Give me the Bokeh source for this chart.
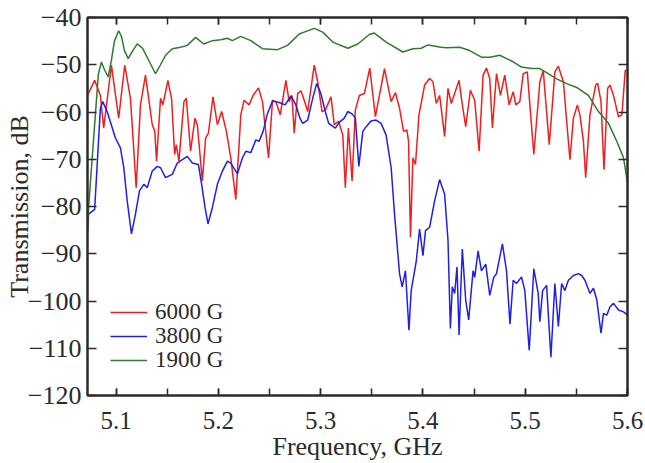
from bokeh.plotting import figure
from bokeh.models import (Range1d, FixedTicker, LinearAxis, Legend, LegendItem,
                          CustomJSTickFormatter)
from bokeh.embed import file_html
from bokeh.resources import INLINE

# ---- data (frequency GHz, transmission dB) ----
red_6000 = [
    (5.0720, -56.5), (5.0790, -53.3), (5.0846, -56.5), (5.0878, -63.4), (5.0954, -50.1),
    (5.1025, -61.3), (5.1084, -50.1), (5.1140, -57.1), (5.1196, -76.0), (5.1238, -58.5),
    (5.1287, -52.2), (5.1353, -62.7), (5.1378, -64.1), (5.1395, -70.4), (5.1434, -57.1),
    (5.1457, -58.5), (5.1506, -53.3), (5.1542, -57.1), (5.1572, -69.0), (5.1588, -66.9),
    (5.1614, -70.4), (5.1663, -57.8), (5.1686, -57.1), (5.1728, -68.3), (5.1771, -61.3),
    (5.1794, -62.7), (5.1843, -74.6), (5.1875, -65.5), (5.1902, -64.5), (5.1947, -56.8),
    (5.1990, -62.7), (5.2032, -59.9), (5.2078, -64.1), (5.2121, -69.7), (5.2170, -78.5),
    (5.2219, -60.6), (5.2251, -57.5), (5.2300, -58.5), (5.2339, -56.5), (5.2392, -54.9),
    (5.2431, -57.8), (5.2490, -69.7), (5.2529, -57.5), (5.2562, -57.8), (5.2604, -60.6),
    (5.2660, -53.3), (5.2692, -57.8), (5.2719, -56.5), (5.2741, -64.5), (5.2775, -56.1),
    (5.2807, -55.5), (5.2824, -56.5), (5.2873, -59.9), (5.2937, -50.1), (5.2971, -53.6),
    (5.3013, -59.9), (5.3045, -59.6), (5.3101, -56.8), (5.3133, -62.7), (5.3176, -62.0),
    (5.3216, -64.9), (5.3241, -76.0), (5.3271, -63.4), (5.3307, -74.6), (5.3339, -59.6),
    (5.3378, -56.5), (5.3427, -56.1), (5.3480, -50.7), (5.3535, -61.0), (5.3624, -50.8),
    (5.3689, -57.8), (5.3731, -55.9), (5.3771, -59.2), (5.3810, -64.1), (5.3843, -63.8),
    (5.3859, -66.2), (5.3878, -86.5), (5.3902, -69.7), (5.3927, -71.1), (5.3961, -60.6),
    (5.4016, -54.3), (5.4065, -52.9), (5.4098, -53.6), (5.4130, -58.2), (5.4163, -56.5),
    (5.4212, -65.2), (5.4245, -55.0), (5.4277, -58.2), (5.4353, -53.3), (5.4385, -58.5),
    (5.4418, -63.1), (5.4464, -55.4), (5.4506, -57.5), (5.4549, -68.3), (5.4588, -52.2),
    (5.4621, -50.7), (5.4653, -52.9), (5.4679, -63.4), (5.4719, -51.9), (5.4758, -56.5),
    (5.4800, -52.2), (5.4843, -58.5), (5.4882, -55.7), (5.4908, -58.5), (5.4947, -57.8),
    (5.4980, -51.9), (5.5020, -51.5), (5.5084, -69.0), (5.5143, -53.6), (5.5176, -51.2),
    (5.5235, -66.9), (5.5290, -51.5), (5.5324, -50.3), (5.5373, -53.6), (5.5437, -70.1),
    (5.5471, -61.3), (5.5510, -58.5), (5.5535, -60.6), (5.5569, -66.2), (5.5591, -73.9),
    (5.5633, -60.6), (5.5689, -54.3), (5.5708, -53.9), (5.5741, -57.8), (5.5770, -72.2),
    (5.5806, -55.0), (5.5829, -54.3), (5.5863, -56.5), (5.5912, -61.0), (5.5945, -60.6),
    (5.5978, -51.2), (5.6000, -51.2),
]

blue_3800 = [
    (5.0719, -85.8), (5.0731, -81.6), (5.0790, -80.6), (5.0824, -67.6), (5.0846, -59.2),
    (5.0869, -57.8), (5.0912, -59.9), (5.0993, -65.5), (5.1042, -67.6), (5.1075, -71.8),
    (5.1108, -78.8), (5.1150, -85.8), (5.1189, -81.6), (5.1228, -76.7), (5.1271, -75.3),
    (5.1304, -76.0), (5.1353, -72.5), (5.1402, -71.5), (5.1434, -71.8), (5.1483, -73.9),
    (5.1549, -73.2), (5.1598, -70.8), (5.1647, -70.1), (5.1696, -69.4), (5.1745, -70.8),
    (5.1804, -71.1), (5.1836, -75.3), (5.1869, -80.2), (5.1898, -83.7), (5.1941, -80.2),
    (5.1990, -75.3), (5.2039, -72.5), (5.2088, -70.4), (5.2121, -70.8), (5.2186, -73.1),
    (5.2235, -69.7), (5.2268, -68.3), (5.2317, -68.6), (5.2366, -65.9), (5.2398, -66.2),
    (5.2437, -64.1), (5.2480, -60.3), (5.2529, -57.7), (5.2594, -58.0), (5.2653, -58.5),
    (5.2709, -56.6), (5.2758, -58.5), (5.2797, -61.3), (5.2824, -62.4), (5.2873, -61.7),
    (5.2922, -57.1), (5.2961, -54.0), (5.3002, -56.1), (5.3045, -59.9), (5.3078, -62.4),
    (5.3143, -63.4), (5.3182, -62.2), (5.3231, -61.3), (5.3265, -59.9), (5.3307, -60.4),
    (5.3339, -61.3), (5.3373, -71.5), (5.3412, -64.1), (5.3444, -63.1), (5.3493, -61.9),
    (5.3542, -61.7), (5.3591, -62.4), (5.3640, -64.9), (5.3689, -71.8), (5.3722, -81.6),
    (5.3771, -94.2), (5.3797, -97.0), (5.3829, -93.6), (5.3863, -106.2), (5.3885, -97.8),
    (5.3935, -91.5), (5.3967, -84.8), (5.4000, -90.4), (5.4025, -85.1), (5.4065, -84.4),
    (5.4114, -78.8), (5.4163, -74.3), (5.4212, -77.4), (5.4245, -87.2), (5.4268, -105.8),
    (5.4287, -97.0), (5.4310, -98.4), (5.4333, -92.8), (5.4353, -107.2), (5.4385, -89.0),
    (5.4418, -99.8), (5.4447, -104.0), (5.4490, -93.6), (5.4506, -95.0), (5.4539, -89.4),
    (5.4572, -93.6), (5.4614, -92.2), (5.4653, -98.8), (5.4692, -95.0), (5.4719, -94.2),
    (5.4777, -87.9), (5.4817, -93.6), (5.4851, -104.9), (5.4882, -95.6), (5.4915, -96.3),
    (5.4964, -94.9), (5.4996, -97.8), (5.5039, -110.4), (5.5084, -93.2), (5.5127, -98.4),
    (5.5143, -104.4), (5.5170, -97.8), (5.5209, -96.7), (5.5251, -111.9), (5.5290, -96.3),
    (5.5324, -105.4), (5.5356, -96.3), (5.5388, -97.8), (5.5422, -95.6), (5.5471, -94.6),
    (5.5520, -94.2), (5.5552, -94.6), (5.5584, -95.6), (5.5633, -98.4), (5.5667, -97.3),
    (5.5700, -99.8), (5.5741, -106.8), (5.5765, -102.6), (5.5797, -103.0), (5.5829, -101.2),
    (5.5863, -100.5), (5.5912, -101.9), (5.5961, -102.3), (5.6000, -103.0),
]

green_1900 = [
    (5.0719, -84.0), (5.0748, -75.0), (5.0797, -60.6), (5.0826, -52.0), (5.0856, -49.4),
    (5.0885, -51.0), (5.0922, -52.6), (5.0954, -49.0), (5.0983, -45.0), (5.1025, -42.8),
    (5.1052, -44.0), (5.1081, -47.0), (5.1118, -48.7), (5.1150, -47.5), (5.1206, -45.6),
    (5.1258, -46.5), (5.1317, -49.0), (5.1385, -51.9), (5.1434, -50.0), (5.1483, -48.0),
    (5.1549, -46.6), (5.1630, -46.3), (5.1696, -45.9), (5.1777, -44.2), (5.1856, -45.6),
    (5.1941, -44.9), (5.2023, -44.7), (5.2088, -44.4), (5.2137, -44.9), (5.2219, -44.0),
    (5.2317, -44.9), (5.2431, -46.6), (5.2578, -46.8), (5.2676, -45.9), (5.2790, -43.5),
    (5.2839, -43.1), (5.2937, -42.3), (5.3020, -43.1), (5.3118, -45.2), (5.3265, -46.5),
    (5.3363, -45.6), (5.3476, -43.6), (5.3525, -43.3), (5.3640, -45.2), (5.3804, -47.3),
    (5.3902, -46.6), (5.3983, -46.5), (5.4049, -45.8), (5.4179, -46.3), (5.4228, -46.4),
    (5.4359, -46.3), (5.4457, -47.0), (5.4572, -48.4), (5.4653, -48.4), (5.4751, -48.0),
    (5.4866, -49.2), (5.4964, -50.5), (5.5062, -50.8), (5.5143, -50.8), (5.5225, -51.9),
    (5.5307, -53.0), (5.5405, -54.0), (5.5503, -54.8), (5.5618, -56.5), (5.5716, -59.9),
    (5.5814, -62.4), (5.5895, -66.2), (5.5961, -69.7), (5.6000, -75.0),
]

series_labels = ["6000 G", "3800 G", "1900 G"]
series_colors = ["#f01e1e", "#1f1fe8", "#2e7b2e"]
x_ticks = [5.1, 5.2, 5.3, 5.4, 5.5, 5.6]
x_minor = [5.1, 5.15, 5.2, 5.25, 5.3, 5.35, 5.4, 5.45, 5.5, 5.55, 5.6]
y_ticks = [-120, -110, -100, -90, -80, -70, -60, -50, -40]
y_tick_labels = {v: "\u2212" + str(abs(v)) for v in y_ticks}

FONT = "Liberation Serif"
INK = "#2a2a2a"

p = figure(width=645, height=463, output_backend="svg", toolbar_location=None,
           x_range=Range1d(5.072, 5.6), y_range=Range1d(-120, -40),
           min_border_left=87, min_border_right=18, min_border_top=17,
           min_border_bottom=65, x_axis_label="Frequency, GHz",
           y_axis_label="Transmission, dB")
p.grid.visible = False
p.outline_line_color = INK
p.outline_line_width = 2
p.background_fill_color = "white"
p.border_fill_color = "white"

renderers = []
for data, col in zip([red_6000, blue_3800, green_1900], series_colors):
    xs = [d[0] for d in data]
    ys = [d[1] for d in data]
    renderers.append(p.line(xs, ys, line_color=col, line_width=1.5))

def style_axis(ax, ticker, tick_len):
    ax.ticker = ticker
    ax.axis_line_color = INK
    ax.axis_line_width = 2
    ax.major_tick_in = tick_len
    ax.major_tick_out = 0
    ax.minor_tick_in = tick_len
    ax.minor_tick_out = 0
    ax.major_tick_line_color = INK
    ax.minor_tick_line_color = INK
    ax.major_tick_line_width = 1.5
    ax.minor_tick_line_width = 1.5
    ax.major_label_text_font = FONT
    ax.major_label_text_color = INK
    ax.axis_label_text_font = FONT
    ax.axis_label_text_color = INK
    ax.axis_label_text_font_style = "normal"

style_axis(p.xaxis[0], FixedTicker(ticks=x_ticks, minor_ticks=x_minor), 7)
style_axis(p.yaxis[0], FixedTicker(ticks=y_ticks, minor_ticks=[]), 9)
p.xaxis[0].major_label_text_font_size = "25px"
p.xaxis[0].axis_label_text_font_size = "26px"
p.xaxis[0].major_label_standoff = 16
p.xaxis[0].axis_label_standoff = 0
p.yaxis[0].major_label_text_font_size = "26px"
p.yaxis[0].axis_label_text_font_size = "26px"
p.yaxis[0].major_label_standoff = 6
p.yaxis[0].axis_label_standoff = -9
p.yaxis[0].major_label_overrides = y_tick_labels

blank = CustomJSTickFormatter(code="return '';")
top = LinearAxis(formatter=blank)
right = LinearAxis(formatter=blank)
style_axis(top, FixedTicker(ticks=x_ticks, minor_ticks=x_minor), 7)
style_axis(right, FixedTicker(ticks=y_ticks, minor_ticks=[]), 9)
for ax in (top, right):
    ax.major_label_text_font_size = "1px"
    ax.major_label_standoff = 0
p.add_layout(top, "above")
p.add_layout(right, "right")

# one single-row legend per series so the rows can sit close together
legend_rows = [(23, 70), (23, 46), (23, 22)]
for lbl, r, loc in zip(series_labels, renderers, legend_rows):
    lg = Legend(items=[LegendItem(label=lbl, renderers=[r])],
                location=loc, border_line_color=None,
                background_fill_alpha=0, padding=0, margin=0,
                glyph_width=37, glyph_height=20, label_standoff=8,
                label_text_font=FONT, label_text_font_size="23px",
                label_text_color=INK, label_height=20)
    p.add_layout(lg)

open("out.html", "w").write(file_html(p, INLINE))
